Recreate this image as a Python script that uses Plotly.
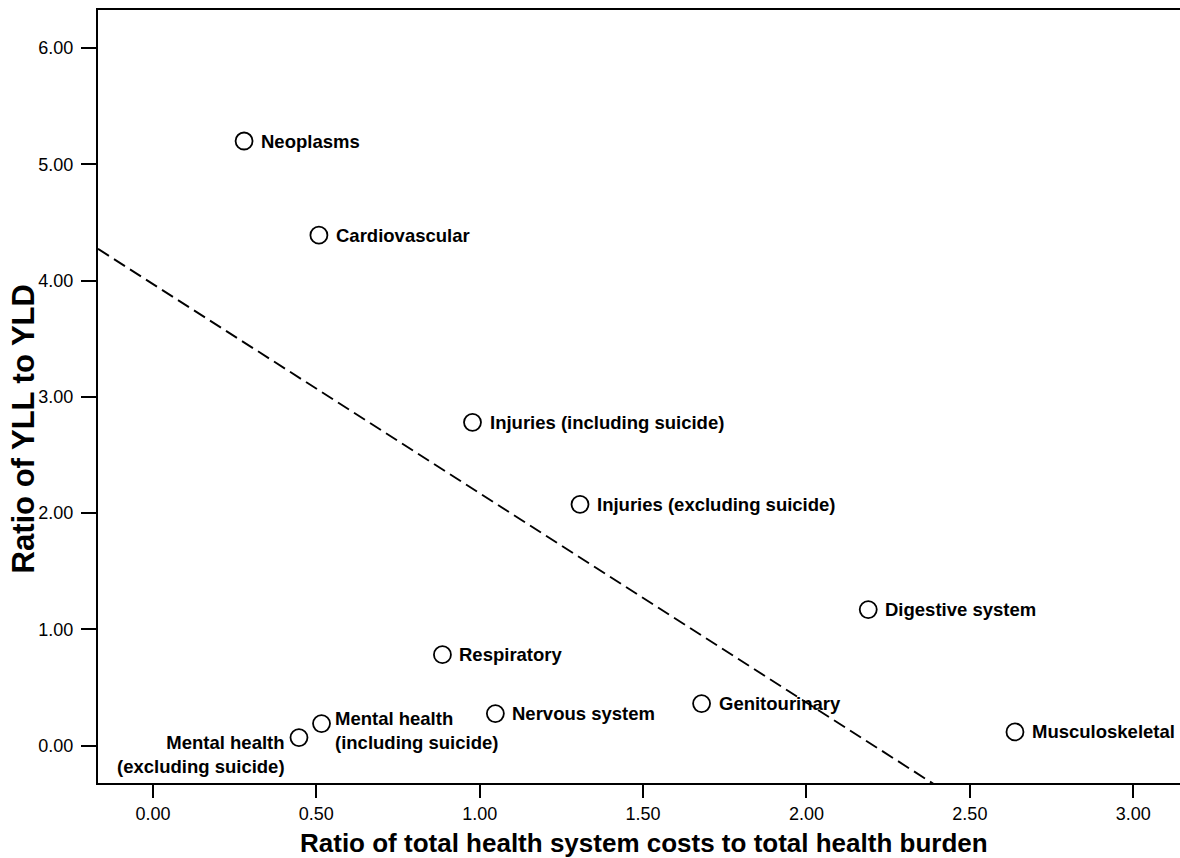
import plotly.graph_objects as go

# ---- data ----
categories = [
    "Neoplasms", "Cardiovascular", "Injuries (including suicide)",
    "Injuries (excluding suicide)", "Digestive system", "Musculoskeletal",
    "Genitourinary", "Respiratory", "Nervous system",
    "Mental health<br>(excluding suicide)", "Mental health<br>(including suicide)",
]
cost_ratio = [0.279, 0.508, 0.978, 1.307, 2.189, 2.638, 1.679, 0.886, 1.048, 0.447, 0.516]
yll_yld_ratio = [5.20, 4.39, 2.78, 2.075, 1.17, 0.117, 0.361, 0.782, 0.275, 0.069, 0.189]

# fitted line
fit_intercept = 3.97
fit_slope = -1.80

x_ticks = [0.0, 0.5, 1.0, 1.5, 2.0, 2.5, 3.0]
y_ticks = [0, 1, 2, 3, 4, 5, 6]

X_RANGE = [-0.168, 3.143]
Y_RANGE = [-0.322, 6.327]

FONT = "Liberation Sans, Arial, Helvetica, sans-serif"
LABEL_SIZE = 18.5

fig = go.Figure()

# fitted dashed line, clipped by plot area
fx = [X_RANGE[0], X_RANGE[1]]
fy = [fit_intercept + fit_slope * v for v in fx]
fig.add_trace(go.Scatter(
    x=fx, y=fy, mode="lines",
    line=dict(color="black", width=1.9, dash="13px,6px"),
    hoverinfo="skip", showlegend=False,
))

fig.add_trace(go.Scatter(
    x=cost_ratio, y=yll_yld_ratio, mode="markers",
    marker=dict(symbol="circle", size=17, color="white",
                line=dict(color="black", width=1.8)),
    text=categories, hoverinfo="text", showlegend=False,
))

annotations = []
for name, xv, yv in zip(categories, cost_ratio, yll_yld_ratio):
    if name.startswith("Mental health<br>(excluding"):
        annotations.append(dict(
            x=xv, y=yv, xref="x", yref="y", text=name, showarrow=False,
            xanchor="right", yanchor="middle", align="right",
            xshift=-12, yshift=-17,
            font=dict(family=FONT, size=LABEL_SIZE, color="black", weight="bold"),
        ))
    elif name.startswith("Mental health<br>(including"):
        annotations.append(dict(
            x=xv, y=yv, xref="x", yref="y", text=name, showarrow=False,
            xanchor="left", yanchor="middle", align="left",
            xshift=11, yshift=-7,
            font=dict(family=FONT, size=LABEL_SIZE, color="black", weight="bold"),
        ))
    else:
        annotations.append(dict(
            x=xv, y=yv, xref="x", yref="y", text=name, showarrow=False,
            xanchor="left", yanchor="middle", align="left",
            xshift=15, yshift=0,
            font=dict(family=FONT, size=LABEL_SIZE, color="black", weight="bold"),
        ))

# axis titles as annotations
annotations.append(dict(
    x=0.5046, y=-0.0776, xref="paper", yref="paper",
    text="Ratio of total health system costs to total health burden",
    showarrow=False, xanchor="center", yanchor="middle",
    font=dict(family=FONT, size=26, color="black", weight="bold"),
))
annotations.append(dict(
    x=-0.0693, y=0.4574, xref="paper", yref="paper",
    text="Ratio of YLL to YLD", textangle=-90,
    showarrow=False, xanchor="center", yanchor="middle",
    font=dict(family=FONT, size=31, color="black", weight="bold"),
))

fig.update_layout(
    width=1180, height=858,
    margin=dict(l=98, r=0, t=9.5, b=75.3),
    paper_bgcolor="white", plot_bgcolor="white",
    annotations=annotations,
    font=dict(family=FONT, color="black"),
)

fig.update_xaxes(
    range=X_RANGE, tickvals=x_ticks, tickformat=".2f",
    showline=True, linecolor="black", linewidth=2, mirror=True,
    ticks="outside", ticklen=13, tickwidth=2, tickcolor="black",
    showgrid=False, zeroline=False,
    tickfont=dict(family=FONT, size=18, color="black"),
)
fig.update_yaxes(
    range=Y_RANGE, tickvals=y_ticks, tickformat=".2f",
    showline=True, linecolor="black", linewidth=2, mirror=False,
    ticks="outside", ticklen=15, tickwidth=2, tickcolor="black",
    ticklabelstandoff=4,
    showgrid=False, zeroline=False,
    tickfont=dict(family=FONT, size=18, color="black"),
)

fig.write_html(
    "out.html",
    config={"displayModeBar": False},
    post_script="document.body.style.margin='0';document.body.style.overflow='hidden';",
)
